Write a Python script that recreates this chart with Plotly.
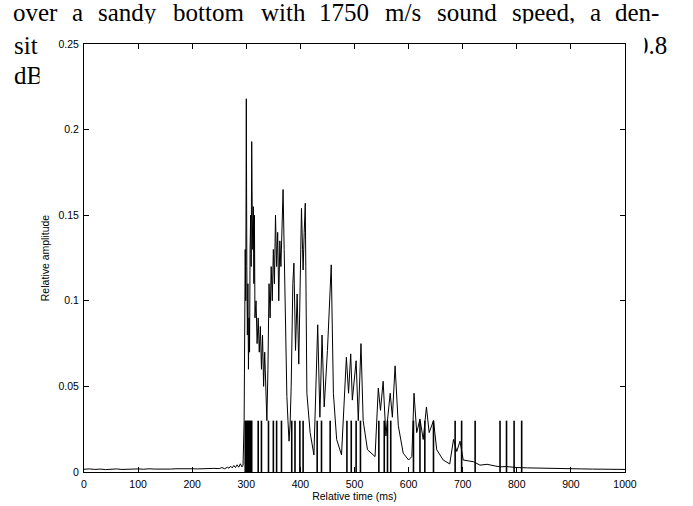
import plotly.graph_objects as go

# ---------------- data ----------------
# envelope of the received signal (relative time in ms, relative amplitude)
t_ms = [0, 10, 20, 30, 40, 50, 60, 70, 80, 90,
        100, 110, 120, 130, 140, 150, 160, 170, 180, 190,
        200, 210, 220, 230, 240, 250, 255, 260, 265, 268,
        271, 274, 277, 280, 283, 286, 289, 292, 294,
        296, 298, 299, 300, 301, 302, 303, 304, 305, 306,
        307, 308, 309, 310, 311, 312, 313, 314, 315, 316,
        318, 320, 322, 324, 326, 328, 330, 332, 334, 336,
        338, 340, 342, 344, 346, 348, 350, 352, 354, 356,
        358, 360, 362, 364, 366, 368, 370, 371, 373, 375,
        377, 379, 381, 383, 386, 388, 391, 394, 397, 399,
        402, 404, 405, 407, 409, 410, 412,
        418, 425, 432, 436, 440, 444, 450, 457, 461, 467,
        476, 485, 489, 493, 496, 503, 507, 512, 516, 524,
        538, 544, 548, 553, 558, 566, 570, 575, 581, 590,
        600, 606, 610, 615, 621, 627, 633, 638, 646, 652,
        664, 676, 683, 689, 695, 701, 710, 720, 732, 745,
        760, 770, 780, 790, 800, 820, 840, 860, 880, 900,
        920, 940, 960, 980, 1000]
amp = [0.0016, 0.0018, 0.0015, 0.0017, 0.0014, 0.0016, 0.0018, 0.0015, 0.0017, 0.0016,
       0.0018, 0.0016, 0.0019, 0.0017, 0.0016, 0.0018, 0.0017, 0.0019, 0.0020, 0.0017,
       0.0019, 0.0018, 0.0020, 0.0019, 0.0021, 0.0020, 0.0026, 0.0019, 0.0028, 0.0022,
       0.0034, 0.0024, 0.0038, 0.0026, 0.0042, 0.0028, 0.0048, 0.0030, 0.0040,
       0.030, 0.130, 0.100, 0.218, 0.120, 0.080, 0.110, 0.060, 0.090, 0.070,
       0.130, 0.150, 0.120, 0.193, 0.150, 0.130, 0.155, 0.110, 0.150, 0.090,
       0.100, 0.075, 0.090, 0.070, 0.085, 0.060, 0.080, 0.050, 0.070, 0.040,
       0.030, 0.060, 0.110, 0.090, 0.120, 0.100, 0.130, 0.110, 0.150, 0.120,
       0.140, 0.100, 0.135, 0.120, 0.140, 0.165, 0.130, 0.110, 0.060, 0.044,
       0.030, 0.018, 0.028, 0.050, 0.110, 0.122, 0.071, 0.104, 0.063, 0.100,
       0.154, 0.130, 0.118, 0.140, 0.157, 0.120, 0.046,
       0.023, 0.010, 0.086, 0.032, 0.080, 0.038, 0.071, 0.121, 0.046, 0.019,
       0.010, 0.067, 0.046, 0.069, 0.042, 0.065, 0.030, 0.075, 0.030, 0.013,
       0.009, 0.049, 0.036, 0.053, 0.021, 0.046, 0.032, 0.062, 0.027, 0.011,
       0.007, 0.009, 0.046, 0.023, 0.031, 0.019, 0.038, 0.023, 0.030, 0.013,
       0.007, 0.0047, 0.019, 0.012, 0.018, 0.007, 0.0065, 0.006, 0.004, 0.0045,
       0.0035, 0.0030, 0.0032, 0.0028, 0.0026, 0.0024, 0.0022, 0.0021, 0.0020, 0.0019,
       0.0018, 0.0017, 0.0016, 0.0016, 0.0015]

# arrival times of the individual ray paths (drawn as fixed-height stems)
bar_t = [298, 300, 302, 304, 306, 308, 310, 322, 328, 341, 350, 356, 365, 384, 390, 399, 405, 431,
         439, 455, 486, 494, 503, 511, 545, 555, 561, 567, 609, 621, 630, 646, 686, 698, 723, 769,
         781, 795, 809]
bar_h = 0.03

x_ticks = [0, 100, 200, 300, 400, 500, 600, 700, 800, 900, 1000]
y_ticks = [0, 0.05, 0.1, 0.15, 0.2, 0.25]
y_ticktext = ["0", "0.05", "0.1", "0.15", "0.2", "0.25"]

# surrounding page text (partly hidden behind the figure)
line1_words = ["over", "a", "sandy", "bottom", "with", "1750", "m/s", "sound", "speed,", "a", "den-"]
line2_left, line2_right = "sit", "0.8"
line3_left = "dB"

# ---------------- figure ----------------
W, H = 693, 506
L, R, T, B = 84, 68, 44, 34
pw, ph = W - L - R, H - T - B


def px(xp):
    return (xp - L) / pw


def py(yp):
    return (H - B - yp) / ph


bx, by = [], []
for t in bar_t:
    bx += [t, t, None]
    by += [0, bar_h, None]

fig = go.Figure()
fig.add_trace(go.Scatter(x=bx, y=by, mode="lines", line=dict(color="black", width=1.6),
                         hoverinfo="skip", showlegend=False))
fig.add_trace(go.Scatter(x=t_ms, y=amp, mode="lines", line=dict(color="black", width=1),
                         showlegend=False))

sans = dict(family="Liberation Sans, Arial, sans-serif", size=10.5, color="black")
axis_common = dict(showgrid=False, zeroline=False, showline=True, linecolor="black", linewidth=1,
                   ticks="inside", ticklen=5, tickcolor="black", mirror="ticks", tickfont=sans,
                   automargin=False)
fig.update_xaxes(range=[0, 1000], tickvals=x_ticks, ticklabelstandoff=2,
                 title=dict(text="Relative time (ms)", standoff=1, font=sans), **axis_common)
fig.update_yaxes(range=[0, 0.25], tickvals=y_ticks, ticktext=y_ticktext, ticklabelstandoff=2,
                 title=dict(text="Relative amplitude", standoff=6, font=sans), **axis_common)

FS = 25
serif = dict(family="Liberation Serif, Times New Roman, serif", size=FS, color="black")
# word widths in em (Computer-Modern-like) used to lay out the justified first line
word_em = [1.864, 0.5, 2.534, 3.167, 1.945, 2.0, 1.727, 2.562, 2.672, 0.5, 1.889]
x_start, x_end = 13, 660
widths = [w * 24 for w in word_em]
gap = (x_end - x_start - sum(widths)) / (len(widths) - 1)

BASE1, BASE2, BASE3 = 22, 55, 85
DESC = 6

annotations = []
xc = x_start
for word, w in zip(line1_words, widths):
    annotations.append(dict(text=word, x=px(xc + w / 2), y=py(BASE1 + DESC),
                            xanchor="center", yanchor="bottom", font=serif))
    xc += w + gap
annotations += [
    dict(text=line2_left, x=px(12), y=py(BASE2 + DESC), xanchor="left", yanchor="bottom", font=serif),
    dict(text=line2_right, x=px(669), y=py(BASE2 + DESC), xanchor="right", yanchor="bottom", font=serif),
    dict(text=line3_left, x=px(12), y=py(BASE3 + DESC), xanchor="left", yanchor="bottom", font=serif),
]
# white covers that hide the clipped parts of the surrounding page text
covers = [
    (39, BASE1 + 1, 643, 36),
    (628, 36, 643, 64),
    (39, 64, 72, 97),
]
for x0, y0, x1, y1 in covers:
    annotations.append(dict(text=" ", x=px(x0), y=py(y0), xanchor="left", yanchor="top",
                            width=x1 - x0, height=y1 - y0, bgcolor="white", borderpad=0,
                            font=dict(size=1)))
for a in annotations:
    a["showarrow"] = False
    a["xref"] = "paper"
    a["yref"] = "paper"

fig.update_layout(width=W, height=H, margin=dict(l=L, r=R, t=T, b=B, pad=0),
                  paper_bgcolor="white", plot_bgcolor="white", annotations=annotations,
                  showlegend=False)

fig.write_html("out.html")
